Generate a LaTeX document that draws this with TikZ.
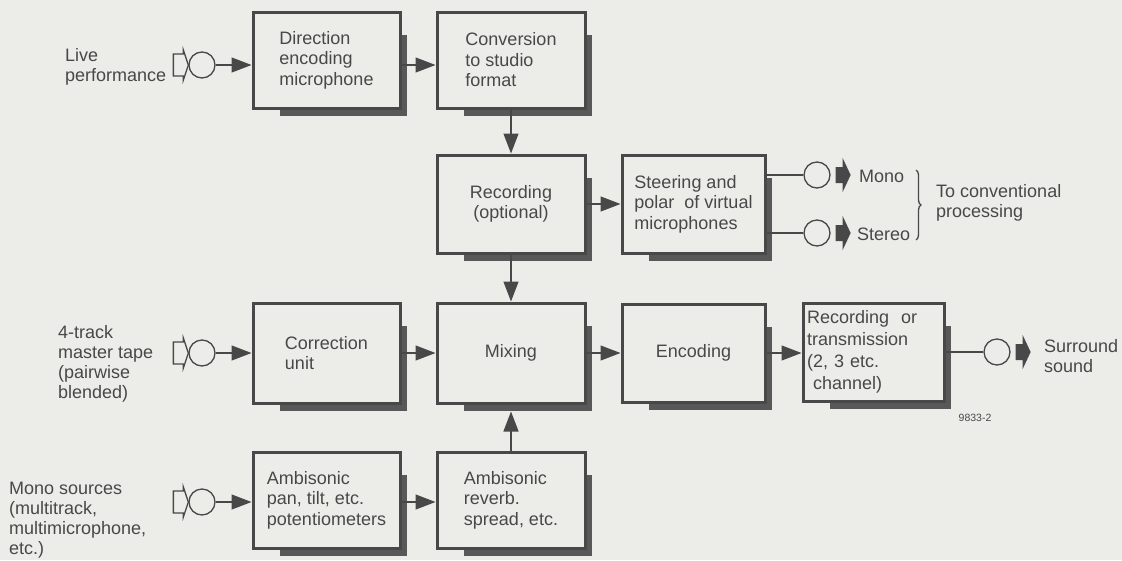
\documentclass[tikz,border=0pt]{standalone}
\usepackage{fontspec}
\setmainfont{Liberation Sans}
\usetikzlibrary{arrows.meta,decorations.pathreplacing}
\definecolor{paper}{RGB}{236,236,233}
\definecolor{ink}{RGB}{72,72,72}
\definecolor{shadowc}{RGB}{88,88,88}
\tikzset{
  blk/.style={draw=ink, line width=3pt, fill=paper, inner sep=0pt, align=left, text=ink,
    font=\fontsize{18}{20.5}\selectfont},
  conn/.style={draw=ink, line width=1.3pt, -{Triangle[length=20pt,width=15pt]}},
  wire/.style={draw=ink, line width=1.3pt},
  jack/.style={circle, draw=ink, line width=1.3pt, minimum size=26pt, inner sep=0pt, fill=paper},
  lbl/.style={text=ink, font=\fontsize{18}{20}\selectfont, align=left, inner sep=0pt},
}
% style, name, cx, cy, w, h, text
\newcommand\shbox[7]{%
  \fill[shadowc] ({#3-#5/2+27},{#4-#6/2+23}) rectangle ({#3+#5/2+7},{#4+#6/2+8});
  \node[blk, minimum width=#5pt, minimum height=#6pt, #1] (#2) at (#3,#4) {#7};
}
\newcommand\inarrow[1]{%
  \draw[ink, line width=1.3pt, line join=miter, shift={(#1.west)}]
    (-15,-11) -- (-5,-11) -- (-5,-15) -- (0,0) -- (-5,15) -- (-5,11) -- (-15,11) -- cycle;
}
\newcommand\outarrow[1]{%
  \fill[ink, shift={(#1.east)}]
    (5,-8) -- (12,-8) -- (12,-17) -- (20,0) -- (12,17) -- (12,8) -- (5,8) -- cycle;
}
\begin{document}
\begin{tikzpicture}[x=1pt, y=-1pt]
\fill[paper] (0,0) rectangle (1122,560);
\useasboundingbox (0,0) rectangle (1122,560);

% blocks
\shbox{}{dir}{326.5}{60}{147}{96}{Direction\\encoding\\microphone}
\shbox{}{conv}{511}{60}{148}{96}{Conversion\\to studio\\format}
\shbox{align=center}{rec}{511}{204}{148}{98}{Recording\\(optional)}
\shbox{}{steer}{693.5}{204}{143}{98}{Steering and\\polar\ \ of virtual\\microphones}
\shbox{}{corr}{326.5}{353}{147}{100}{Correction\\unit}
\shbox{align=center}{mix}{511}{353}{148}{100}{Mixing}
\shbox{align=center}{enc}{693.5}{353}{143}{98}{Encoding}
\shbox{text width=133pt, font=\fontsize{18}{22}\selectfont}{rt}{873.5}{352}{141}{98}{Recording\ \ or\\transmission\\(2, 3 etc.\\\ channel)}
\shbox{}{pan}{326.5}{500}{147}{96}{Ambisonic\\pan, tilt, etc.\\potentiometers}
\shbox{}{rev}{511}{500}{148}{96}{Ambisonic\\reverb.\\spread, etc.}

% jacks
\node[jack] (j1) at (202,65) {};
\node[jack] (j2) at (202,353) {};
\node[jack] (j3) at (202,502) {};
\node[jack] (jm) at (817,175) {};
\node[jack] (js) at (817,233) {};
\node[jack] (jo) at (997,352) {};

\inarrow{j1}
\inarrow{j2}
\inarrow{j3}
\outarrow{jm}
\outarrow{js}
\outarrow{jo}

% connectors
\draw[conn] (j1.east) -- (j1.east -| dir.west);
\draw[conn] (dir.east |- j1) -- (conv.west |- j1);
\draw[conn] (conv.south) -- (rec.north);
\draw[conn] (rec.east) -- (steer.west);
\draw[conn] (rec.south) -- (mix.north);
\draw[conn] (j2.east) -- (j2.east -| corr.west);
\draw[conn] (corr.east) -- (mix.west);
\draw[conn] (mix.east) -- (enc.west);
\draw[conn] (enc.east) -- (enc.east -| rt.west);
\draw[wire] (rt.east) -- (jo.west);
\draw[conn] (j3.east) -- (j3.east -| pan.west);
\draw[conn] (pan.east |- j3) -- (rev.west |- j3);
\draw[conn] (rev.north) -- ([yshift=-7pt]mix.south);
\draw[wire] (steer.east |- jm) -- (jm.west);
\draw[wire] (steer.east |- js) -- (js.west);

% labels
\node[lbl, anchor=west] (live) at (65,67) {Live\\performance};
\node[lbl, anchor=west] (tape) at (58,364) {4-track\\master tape\\(pairwise\\blended)};
\node[lbl, anchor=west] (mono) at (9,520) {Mono sources\\(multitrack,\\multimicrophone,\\etc.)};
\node[lbl, anchor=west] (monot) at (859,176) {Mono};
\node[lbl, anchor=west] (stereo) at (857,234) {Stereo};
\coordinate (bt) at (916,170);
\coordinate (bb) at (916,240);
\draw[ink, line width=1.3pt, decorate, decoration={brace, amplitude=5pt}] (bt) -- (bb);
\node[lbl, anchor=west] (conv2) at (936,203) {To conventional\\processing};
\node[lbl, anchor=west] (surr) at (1044,356) {Surround\\sound};
\node[text=ink, inner sep=0pt, font=\fontsize{10.5}{12}\selectfont] (fig) at (975,418) {9833-2};
\end{tikzpicture}
\end{document}
